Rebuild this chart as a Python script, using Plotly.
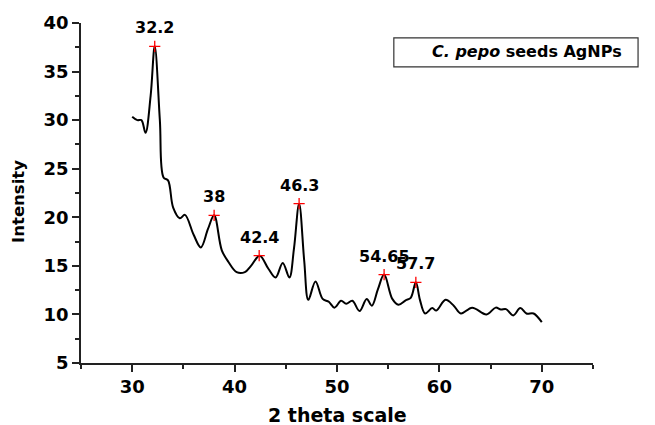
import plotly.graph_objects as go

# XRD pattern
two_theta = [30.0, 30.5, 30.9, 31.3, 31.8, 32.2, 32.7, 33.06, 33.5, 34.0, 34.65, 35.15,
             36.0, 36.7, 37.4, 38.0, 38.75, 39.4, 40.2, 41.0, 41.6, 42.45, 43.3, 44.0,
             44.7, 45.35, 45.8, 46.3, 46.8, 47.2, 47.9, 48.6, 49.2, 49.75, 50.4, 50.9,
             51.5, 52.2, 52.9, 53.4, 54.0, 54.6, 55.4, 56.0, 56.7, 57.2, 57.7, 58.1,
             58.6, 59.3, 59.7, 60.6, 61.4, 62.1, 63.2, 64.6, 65.5, 66.0, 66.5, 67.2,
             67.9, 68.5, 69.2, 70.0]
intensity = [30.35, 30.0, 30.0, 28.7, 32.5, 37.6, 30.0, 24.1, 23.8, 21.0, 19.9, 20.25,
             18.2, 16.9, 18.8, 20.2, 16.6, 15.4, 14.35, 14.35, 15.0, 16.05, 14.7, 13.8,
             15.3, 13.8, 16.8, 21.4, 15.5, 11.5, 13.4, 11.6, 11.3, 10.7, 11.4, 11.1,
             11.4, 10.35, 11.6, 10.9, 12.6, 14.1, 11.6, 11.0, 11.45, 11.7, 13.3, 11.5,
             10.1, 10.65, 10.4, 11.5, 10.9, 10.1, 10.7, 10.0, 10.7, 10.5, 10.55, 9.9,
             10.65, 10.1, 10.1, 9.2]

peak_x = [32.2, 38.0, 42.4, 46.3, 54.6, 57.7]
peak_y = [37.6, 20.2, 16.05, 21.4, 14.1, 13.3]
peak_labels = ["32.2", "38", "42.4", "46.3", "54.65", "57.7"]

x_ticks = [30, 40, 50, 60, 70]
y_ticks = [5, 10, 15, 20, 25, 30, 35, 40]

FONT = "DejaVu Sans"

fig = go.Figure()
fig.add_trace(go.Scatter(x=two_theta, y=intensity, mode="lines",
                         line=dict(color="black", width=2, shape="spline", smoothing=1.0),
                         showlegend=False, hoverinfo="skip"))
fig.add_trace(go.Scatter(x=peak_x, y=peak_y, mode="markers",
                         marker=dict(symbol="cross-thin", size=8,
                                     line=dict(color="red", width=1.3), color="red"),
                         showlegend=False))

for px_, py_, lab in zip(peak_x, peak_y, peak_labels):
    fig.add_annotation(x=px_, y=py_, text=lab, showarrow=False, xanchor="center",
                       yanchor="bottom", yshift=7,
                       font=dict(family=FONT, size=16, color="black", weight="bold"))

axis_common = dict(showline=True, linecolor="#222", linewidth=1.6, ticks="outside",
                   ticklen=7, tickwidth=1.5, tickcolor="#222", showgrid=False,
                   zeroline=False, mirror=False,
                   tickfont=dict(family=FONT, size=18, color="black", weight="bold"))

fig.update_xaxes(range=[25, 75], tickvals=x_ticks,
                 minor=dict(dtick=5, tick0=25, ticks="outside", ticklen=4, tickcolor="#222"),
                 **axis_common)
fig.update_yaxes(range=[5, 40], tickvals=y_ticks,
                 minor=dict(dtick=2.5, tick0=5, ticks="outside", ticklen=4, tickcolor="#222"),
                 **axis_common)

# axis titles
fig.add_annotation(xref="paper", yref="paper", x=0.5, y=-0.152, text="2 theta scale",
                   showarrow=False, xanchor="center", yanchor="middle",
                   font=dict(family=FONT, size=19, color="black", weight="bold"))
fig.add_annotation(xref="paper", yref="paper", x=-0.121, y=0.474, text="Intensity",
                   showarrow=False, xanchor="center", yanchor="middle", textangle=-90,
                   font=dict(family=FONT, size=16.5, color="black", weight="bold"))

# legend box
fig.add_shape(type="rect", xref="paper", yref="paper", x0=0.611, x1=1.088, y0=0.871, y1=0.956,
              line=dict(color="#333", width=1.2), fillcolor="white")
fig.add_annotation(xref="paper", yref="paper", x=0.872, y=0.915,
                   text="<i>C. pepo</i> seeds AgNPs", showarrow=False,
                   xanchor="center", yanchor="middle",
                   font=dict(family=FONT, size=16, color="black", weight="bold"))

fig.update_layout(width=655, height=425, margin=dict(l=81, r=62, t=21, b=62),
                  plot_bgcolor="white", paper_bgcolor="white")

fig.write_html("out.html")
